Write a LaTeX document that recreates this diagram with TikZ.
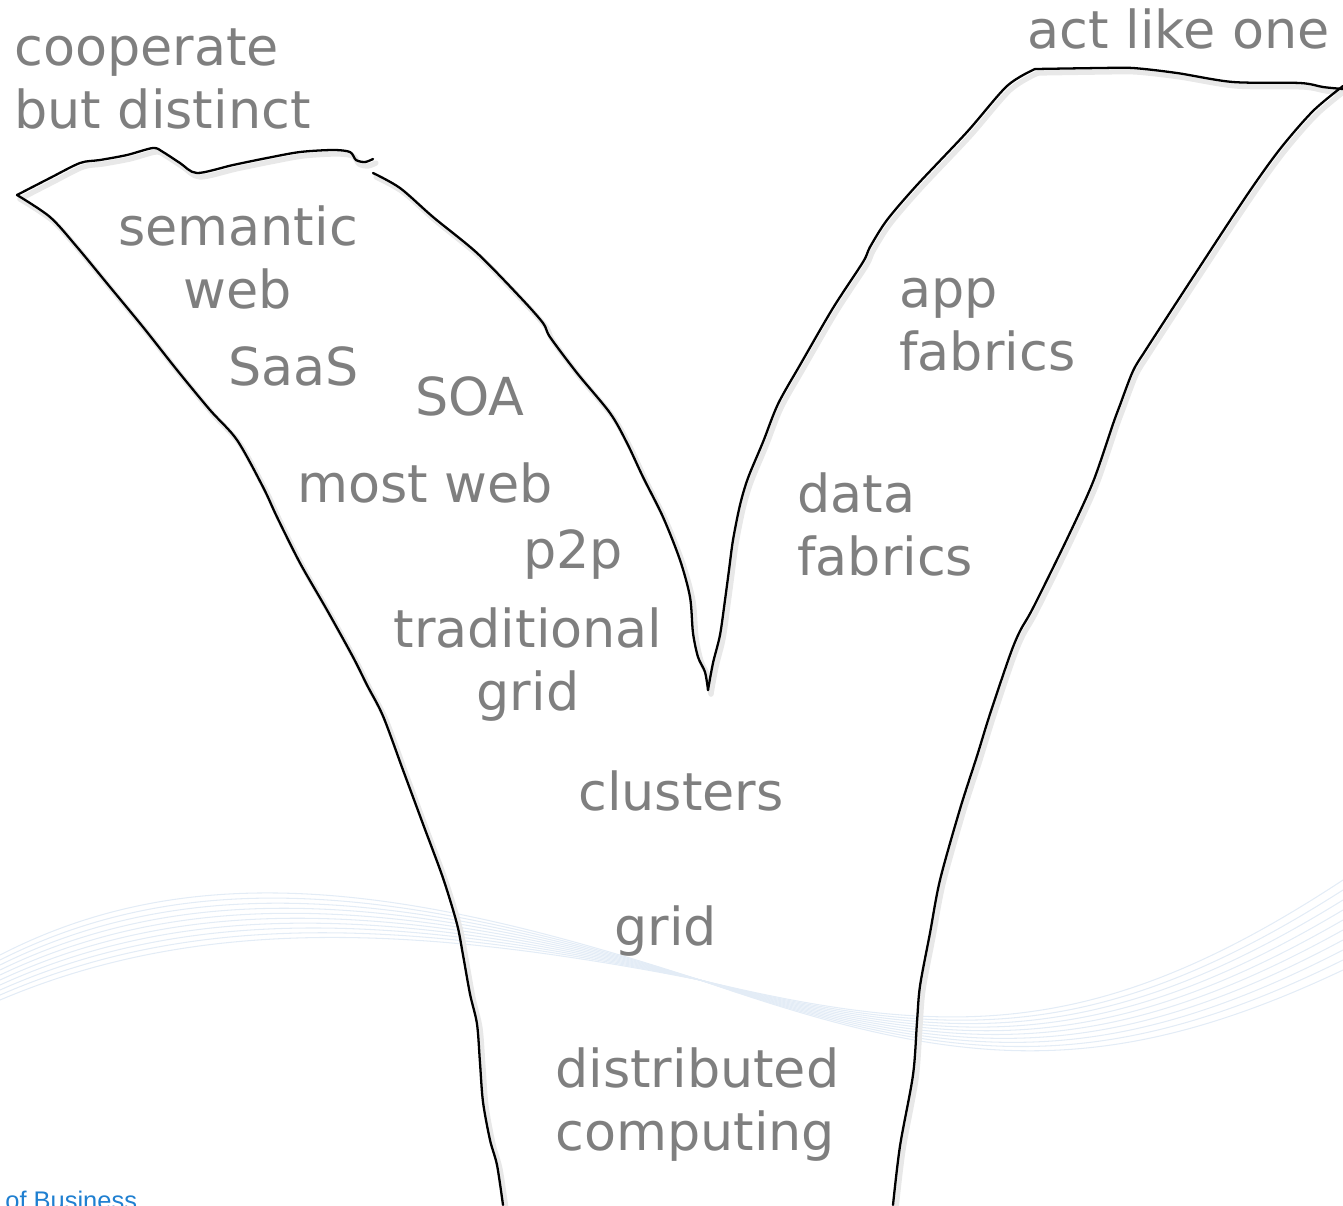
\documentclass[tikz,border=0pt]{standalone}
\usepackage{fontspec}
\setmainfont{DejaVu Sans}
\newfontfamily\bizfont{Liberation Sans}
\definecolor{labelgray}{HTML}{7F7F7F}
\definecolor{wavebl}{HTML}{E3ECF6}
\definecolor{bizblue}{HTML}{1F7FD0}
\tikzset{
  lbl/.style={font=\fontsize{29.8}{35.7}\selectfont, text=labelgray, inner sep=0pt, anchor=base west},
  ink/.style={line width=1.3pt, black, line cap=round, line join=round},
  inkshadow/.style={line width=3pt, black!9, line cap=round, line join=round, shift={(3,4)}},
  wave/.style={wavebl, line width=0.6pt},
}
% outline pieces, in pixel coordinates
\newcommand\lefttop{plot[smooth,tension=.5] coordinates {(373,159) (365,162) (356,160) (350,152) (333,150) (300,152) (267,158) (233,165) (197,173) (180,163) (163,152) (153,148) (127,155) (100,160) (80,163) (50,178) (17,195)}}
\newcommand\leftouter{plot[smooth,tension=.5] coordinates {(17,195) (50,217) (77,247) (110,287) (143,327) (177,370) (210,410) (237,440) (263,487) (277,517) (300,563) (327,610) (353,657) (367,685) (383,716) (403,770) (423,824) (443,878) (457,924) (463,955) (470,994) (477,1024) (480,1063) (483,1102) (490,1140) (497,1165) (503,1205)}}
\newcommand\innerv{plot[smooth,tension=.5] coordinates {(373,173) (400,188) (433,217) (477,253) (520,297) (543,323) (550,337) (577,373) (610,413) (627,443) (643,477) (663,517) (680,560) (690,597) (693,633) (698,657) (705,672) (708,690)}}
\newcommand\innerright{plot[smooth,tension=.5] coordinates {(708,690) (713,663) (720,635) (725,600) (729,570) (733,540) (740,505) (748,478) (763,442) (778,404) (800,365) (833,308) (863,262) (870,247) (887,220) (917,185) (967,132) (1007,86) (1035,69)}}
\newcommand\righttop{plot[smooth,tension=.5] coordinates {(1035,69) (1100,68) (1133,68) (1177,73) (1233,82) (1300,83) (1323,87) (1343,89)}}
\newcommand\rightouter{plot[smooth,tension=.5] coordinates {(1343,86) (1313,111) (1280,149) (1247,195) (1197,271) (1147,348) (1133,371) (1120,405) (1113,424) (1093,482) (1067,539) (1033,608) (1020,631) (1010,655) (990,714) (977,756) (960,809) (940,880) (930,933) (920,986) (917,1022) (913,1075) (900,1146) (893,1205)}}
\begin{document}
\begin{tikzpicture}[x=0.02cm,y=-0.02cm]
\useasboundingbox (0,0) rectangle (1343,1205);
\clip (0,0) rectangle (1343,1205);
%background ribbon
\foreach \d in {0,...,9}
  \draw[wave] (0,1000-5*\d) .. controls (200,915-7*\d) and (420,925-4*\d) .. (700,980)
              .. controls (950,1040+3*\d) and (1100,1040+5*\d) .. (1343,880+10*\d);
%outline
\foreach \p in {\lefttop,\leftouter,\innerv,\innerright,\righttop,\rightouter}
  \draw[inkshadow] \p;
\foreach \p in {\lefttop,\leftouter,\innerv,\innerright,\righttop,\rightouter}
  \draw[ink] \p;
%labels
\node[lbl, align=left] (coop) at (14,128) {cooperate\\but distinct};
\node[lbl, anchor=base east] (actone) at (1330,48) {act like one};
\node[lbl, anchor=base, align=center] (semweb) at (238,308) {semantic\\web};
\node[lbl] (saas) at (228,385) {SaaS};
\node[lbl] (soa) at (415,415) {SOA};
\node[lbl] (mostweb) at (297,502) {most web};
\node[lbl] (ptwop) at (523,568) {p2p};
\node[lbl, anchor=base, align=center] (tradgrid) at (528,710) {traditional\\grid};
\node[lbl] (clusters) at (578,810) {clusters};
\node[lbl] (grid) at (614,945) {grid};
\node[lbl, align=left] (distcomp) at (555,1150) {distributed\\computing};
\node[lbl, align=left] (appfab) at (899,370) {app\\fabrics};
\node[lbl, align=left] (datafab) at (797,575) {data\\fabrics};
\node[anchor=base west, inner sep=0pt, font=\bizfont\fontsize{14.5}{17}\selectfont, text=bizblue] (biz) at (5,1209) {of Business};
\end{tikzpicture}
\end{document}
